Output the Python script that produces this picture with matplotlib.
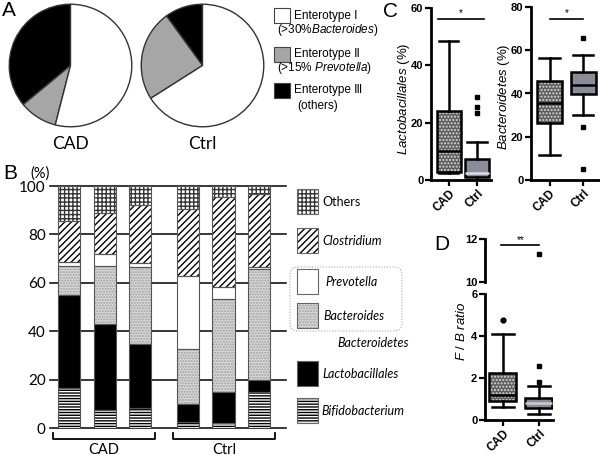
import matplotlib
matplotlib.use('Agg')
import matplotlib.pyplot as plt
from matplotlib.patches import Rectangle, FancyBboxPatch

W, H = 600, 461
plt.rcParams['font.family'] = ['Liberation Sans', 'DejaVu Sans']
plt.rcParams['mathtext.fontset'] = 'custom'
plt.rcParams['mathtext.it'] = 'Liberation Sans:italic'
plt.rcParams['mathtext.rm'] = 'Liberation Sans'
plt.rcParams['hatch.linewidth'] = 1.0

# ---------------- data ----------------
pie_groups = ['CAD', 'Ctrl']
enterotype_names = ['Enterotype Ⅰ', 'Enterotype Ⅱ', 'Enterotype Ⅲ']
enterotype_notes = ['(>30%$\\it{Bacteroides}$)', '(>15% $\\it{Prevotella}$)', '(others)']
cad_enterotype = [54, 10, 36]     # I, II, III (%)
ctrl_enterotype = [66, 24, 10]

bar_groups = ['CAD', 'Ctrl']
genera = ['Bifidobacterium', 'Lactobacillales', 'Bacteroides', 'Prevotella', 'Clostridium', 'Others']
bifido = [16.5, 7.3, 8.3, 2.5, 2.0, 14.9]
lacto = [38.5, 35.7, 26.5, 7.5, 12.7, 5.1]
bacteroides = [12.0, 24.0, 31.9, 22.6, 38.5, 45.9]
prevotella = [1.8, 4.8, 1.3, 30.3, 5.0, 0.8]
clostridium = [16.9, 17.2, 24.2, 27.6, 37.4, 30.0]
others = [14.3, 11.0, 7.8, 9.5, 4.4, 3.3]
bar_yticks = [0, 20, 40, 60, 80, 100]

box_labels = ['CAD', 'Ctrl']
# (whislo, q1, med, q3, whishi, fliers)
lacto_cad = (2.5, 2.9, 10.1, 24.1, 48.4, [])
lacto_ctrl = (0.0, 1.2, 2.6, 7.3, 13.4, [23.3, 25.6, 29.1])
bact_cad = (11.4, 26.3, 35.8, 45.9, 56.2, [])
bact_ctrl = (30.0, 39.8, 44.0, 49.9, 57.8, [4.9, 24.7, 65.6])
fb_cad = (0.63, 0.9, 1.2, 2.22, 4.08, [4.76])
fb_ctrl = (0.27, 0.56, 0.83, 1.06, 1.63, [1.83, 2.57, 11.3])
sig_lacto, sig_bact, sig_fb = 56, 74.5, 11.7

fig = plt.figure(figsize=(6, 4.61), dpi=100)


def px_axes(x0, y0, x1, y1, **kw):
    return fig.add_axes([x0 / W, 1 - y1 / H, (x1 - x0) / W, (y1 - y0) / H], **kw)


LATO = ['Lato', 'DejaVu Sans']
ARIAL = ['Liberation Sans', 'DejaVu Sans']

# overlay axes in pixel coordinates
ov = px_axes(0, 0, W, H)
ov.set_xlim(0, W)
ov.set_ylim(H, 0)
ov.axis('off')
ov.patch.set_alpha(0)
ov.set_zorder(5)

# ---------------- panel letters ----------------
for lx, ly, s in [(2, 1, 'A'), (3, 164, 'B'), (383, 2, 'C'), (434, 235, 'D')]:
    ov.text(lx, ly, s, fontsize=15, va='top', ha='left', family=ARIAL)

# ---------------- Panel A ----------------
pie_colors = ['black', '#a6a6a6', 'white']
for (x0, y0, x1, y1), grp, vals in [((8, 3, 133, 128), 'CAD', cad_enterotype),
                                     ((140, 3, 265, 128), 'Ctrl', ctrl_enterotype)]:
    ax = px_axes(x0, y0, x1, y1)
    ax.pie(vals[::-1], colors=pie_colors, startangle=90, counterclock=True,
           wedgeprops=dict(edgecolor='#333333', linewidth=1))
    ax.set_aspect('equal')
    ax.set_xlim(-1.02, 1.02)
    ax.set_ylim(-1.02, 1.02)
    ov.text((x0 + x1) / 2, 144, grp, fontsize=12.5, ha='center', va='center', family=LATO)

leg_sq = [(274, 8), (274, 47), (274, 83)]
leg_cols = ['white', '#a6a6a6', 'black']
for (sx, sy), c, name, note, ny in zip(leg_sq, leg_cols, enterotype_names, enterotype_notes,
                                       [30, 68, 106]):
    ov.add_patch(Rectangle((sx, sy), 16, 15, facecolor=c, edgecolor='#444444', lw=0.8))
    ov.text(294, sy + 7.5, name, fontsize=8.5, va='center', ha='left', family=ARIAL)
    if note == '(others)':
        ov.text(318, ny, note, fontsize=8.5, va='center', ha='center', family=ARIAL)
    else:
        ov.text(277, ny, note, fontsize=8.5, va='center', ha='left', family=ARIAL)

# ---------------- Panel B ----------------
styles = {
    'Bifidobacterium': dict(fc='white', hatch='------', hc='black'),
    'Lactobacillales': dict(fc='black', hatch=None, hc='black'),
    'Bacteroides': dict(fc='#d8d8d8', hatch='......', hc='#a0a0a0'),
    'Prevotella': dict(fc='white', hatch=None, hc='white'),
    'Clostridium': dict(fc='white', hatch='/////', hc='black'),
    'Others': dict(fc='white', hatch='++++', hc='#333333'),
}
series = [bifido, lacto, bacteroides, prevotella, clostridium, others]

axb = px_axes(50, 186, 286, 428)
xpos = [0, 1, 2, 3.35, 4.35, 5.35]
bw = 0.62
for yv in bar_yticks:
    axb.axhline(yv, color='black', lw=1.1, zorder=0, clip_on=False)
bottom = [0.0] * 6
for g, vals in zip(genera, series):
    st = styles[g]
    axb.bar(xpos, vals, bw, bottom=bottom, color=st['fc'], hatch=st['hatch'],
            edgecolor=st['hc'], linewidth=0, zorder=2)
    axb.bar(xpos, vals, bw, bottom=bottom, fill=False, edgecolor='#555555',
            linewidth=0.8, zorder=3)
    bottom = [b + v for b, v in zip(bottom, vals)]
axb.set_xlim(-0.535, 6.11)
axb.set_ylim(0, 100)
for s in axb.spines.values():
    s.set_visible(False)
axb.set_xticks([])
axb.set_yticks(bar_yticks)
axb.set_yticklabels([str(v) for v in bar_yticks], fontsize=11, family=LATO)
axb.tick_params(axis='y', length=0, pad=3)
axb.patch.set_alpha(0)
ov.text(30, 174, '(%)', fontsize=10.5, va='center', ha='left', family=LATO)

# brackets
for (bx0, bx1), lab in zip([(53, 155), (173, 275)], bar_groups):
    ov.plot([bx0, bx0, bx1, bx1], [433, 439, 439, 433], color='black', lw=1.3)
    ov.text((bx0 + bx1) / 2, 450, lab, fontsize=10.5, ha='center', va='center', family=LATO)

# legend B
leg_y = {'Others': 189, 'Clostridium': 228, 'Prevotella': 269, 'Bacteroides': 303,
         'Lactobacillales': 361, 'Bifidobacterium': 398}
leg_tx = {'Others': 322, 'Clostridium': 322, 'Prevotella': 325, 'Bacteroides': 323,
          'Lactobacillales': 322, 'Bifidobacterium': 321}
ov.add_patch(FancyBboxPatch((290, 267), 112, 64, boxstyle='round,pad=0,rounding_size=8',
                            fill=False, edgecolor='#aaaaaa', lw=0.8, linestyle=(0, (1, 1.5))))
for g in genera[::-1]:
    st = styles[g]
    y = leg_y[g]
    ov.add_patch(Rectangle((297, y), 21, 25, facecolor=st['fc'], hatch=st['hatch'],
                           edgecolor=st['hc'], lw=0))
    ov.add_patch(Rectangle((297, y), 21, 25, fill=False, edgecolor='#666666', lw=0.8))
    ov.text(leg_tx[g], y + 13, g, fontsize=9, style='normal' if g == 'Others' else 'italic',
            va='center', ha='left', family=LATO)
ov.text(373, 343, 'Bacteroidetes', fontsize=9, style='italic', ha='center', va='center',
        family=LATO)


# ---------------- Panel C & D ----------------
def stats(t, label):
    lo, q1, med, q3, hi, fl = t
    return dict(whislo=lo, q1=q1, med=med, q3=q3, whishi=hi, fliers=fl, label=label)


def style_axis(ax):
    for s in ['top', 'right']:
        ax.spines[s].set_visible(False)
    for s in ['left', 'bottom']:
        ax.spines[s].set_linewidth(2)
    ax.tick_params(width=1.6, length=4, pad=1.5)
    for t in ax.get_yticklabels():
        t.set_fontweight('bold')
        t.set_fontsize(8)
    ax.patch.set_alpha(0)


def draw_box(ax, data, width, ctrl_med='black', cad_flier='s'):
    bp = ax.bxp([stats(data[0], 'CAD'), stats(data[1], 'Ctrl')], positions=[1, 2],
                widths=width, patch_artist=True, showfliers=True, capwidths=width * 0.8,
                boxprops=dict(linewidth=1.8, edgecolor='black'),
                whiskerprops=dict(linewidth=1.8), capprops=dict(linewidth=1.8),
                medianprops=dict(linewidth=1.8, color='black'),
                flierprops=dict(marker='s', markersize=3.5, markerfacecolor='black',
                                markeredgecolor='black'))
    b0, b1 = bp['boxes']
    b0.set_facecolor('#5e5e5e')
    b0.set_hatch('.....')
    b0._hatch_color = (0.85, 0.85, 0.85, 1)
    b1.set_facecolor('#8a8c9a')
    bp['medians'][1].set_color(ctrl_med)
    bp['fliers'][0].set_marker(cad_flier)
    ax.set_xticks([1, 2])
    ax.set_xticklabels(box_labels, rotation=45, ha='right', rotation_mode='anchor',
                       fontweight='bold', fontsize=8.5)
    return bp


# C left
axc1 = px_axes(431, 8, 491, 180)
draw_box(axc1, [lacto_cad, lacto_ctrl], 0.85, ctrl_med='#dddddd')
axc1.set_xlim(0.36, 2.5)
axc1.set_ylim(0, 60)
axc1.set_yticks([0, 20, 40, 60])
style_axis(axc1)
axc1.plot([0.6, 2.25], [sig_lacto, sig_lacto], color='black', lw=1.2, clip_on=False)
axc1.text(1.42, sig_lacto + 0.5, '*', ha='center', va='bottom', fontsize=7)
axc1.set_ylabel('$\\it{Lactobacillales}$ (%)', fontsize=9.5)
axc1.yaxis.set_label_coords(-0.32, 0.47)

# C right
axc2 = px_axes(531, 7, 600, 180)
draw_box(axc2, [bact_cad, bact_ctrl], 0.75)
axc2.set_xlim(0.45, 2.5)
axc2.set_ylim(0, 80)
axc2.set_yticks([0, 20, 40, 60, 80])
style_axis(axc2)
axc2.plot([1, 2], [sig_bact, sig_bact], color='black', lw=1.2, clip_on=False)
axc2.text(1.5, sig_bact + 0.5, '*', ha='center', va='bottom', fontsize=7)
axc2.set_ylabel('$\\it{Bacteroidetes}$ (%)', fontsize=9.5)
axc2.yaxis.set_label_coords(-0.27, 0.48)

# D (broken axis)
axd = px_axes(485, 294, 553, 420)
draw_box(axd, [fb_cad, fb_ctrl], 0.75, ctrl_med='#cccccc', cad_flier='o')
axd.set_xlim(0.5, 2.39)
axd.set_ylim(0, 6)
axd.set_yticks([0, 2, 4, 6])
style_axis(axd)
axd.set_ylabel('$\\it{F}$ / $\\it{B}$ $\\it{ratio}$', fontsize=9.5)
axd.yaxis.set_label_coords(-0.25, 0.7)

axu = px_axes(485, 239, 553, 282)
draw_box(axu, [fb_cad, fb_ctrl], 0.75, ctrl_med='#cccccc', cad_flier='o')
axu.set_xlim(0.5, 2.39)
axu.set_ylim(10, 12)
axu.set_yticks([10, 12])
style_axis(axu)
axu.spines['bottom'].set_visible(False)
axu.set_xticks([])
axu.plot([0.95, 2.0], [sig_fb, sig_fb], color='black', lw=1.2, clip_on=False)
axu.text(1.5, sig_fb + 0.02, '**', ha='center', va='bottom', fontsize=7)

fig.savefig('out.png', dpi=100)
